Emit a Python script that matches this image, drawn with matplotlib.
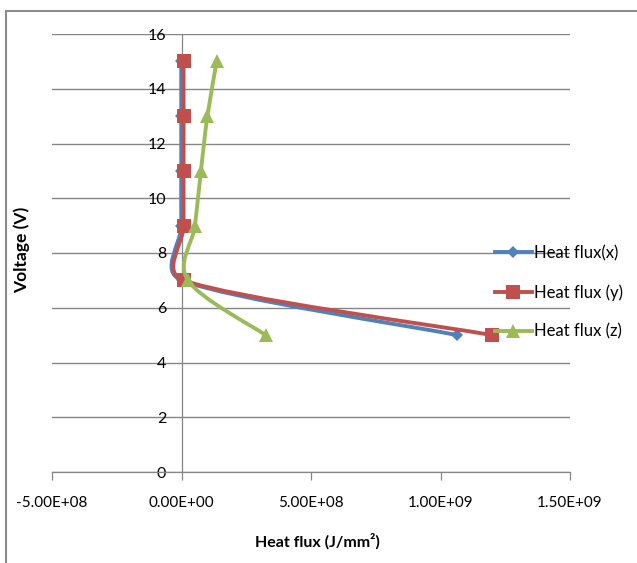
import numpy as np
import matplotlib
matplotlib.use("Agg")
import matplotlib.pyplot as plt
from matplotlib.path import Path
from matplotlib.patches import PathPatch, Rectangle
from matplotlib.lines import Line2D
from matplotlib.ticker import FuncFormatter, MultipleLocator

# data
voltage = [5, 7, 9, 11, 13, 15]
flux_x = [1.065e9, 1e6, -1e6, -1e6, -1e6, -1e6]
flux_y = [1.20e9, 8e6, 8e6, 8e6, 8e6, 8e6]
flux_z = [3.25e8, 2.5e7, 5.2e7, 7.5e7, 1.0e8, 1.36e8]
labels = ["Heat flux(x)", "Heat flux (y)", "Heat flux (z)"]
colors = ["#4F81BD", "#C0504D", "#9BBB59"]
markers = ["D", "s", "^"]
marker_sizes = [6.5, 9.5, 10]

W, H = 637, 563
X_LIM = (-5e8, 1.5e9)
Y_LIM = (0, 16)
AX_LEFT, AX_RIGHT, AX_TOP, AX_BOTTOM = 52, 570, 34, 472

plt.rcParams["font.family"] = ["Lato", "DejaVu Sans"]


def smooth_path(xs, ys, sx, sy, cap=0.45):
    """Excel-like smoothed line: Catmull-Rom Bezier segments, handles capped."""
    pts = np.column_stack([np.asarray(xs) * sx, np.asarray(ys) * sy])
    n = len(pts)
    verts = [pts[0]]
    codes = [Path.MOVETO]
    for i in range(n - 1):
        p0 = pts[i - 1] if i > 0 else pts[i]
        p1, p2 = pts[i], pts[i + 1]
        p3 = pts[i + 2] if i + 2 < n else pts[i + 1]
        d = np.linalg.norm(p2 - p1)
        h1 = (p2 - p0) / 6
        h2 = (p3 - p1) / 6
        for h in (h1, h2):
            ln = np.linalg.norm(h)
            if ln > cap * d:
                h *= cap * d / ln
        verts += [p1 + h1, p2 - h2, p2]
        codes += [Path.CURVE4] * 3
    verts = np.array(verts)
    verts[:, 0] /= sx
    verts[:, 1] /= sy
    return Path(verts, codes)


fig = plt.figure(figsize=(W / 100, H / 100), dpi=100)
ax = fig.add_axes([AX_LEFT / W, 1 - AX_BOTTOM / H,
                   (AX_RIGHT - AX_LEFT) / W, (AX_BOTTOM - AX_TOP) / H])
ax.set_xlim(*X_LIM)
ax.set_ylim(*Y_LIM)

sx = (AX_RIGHT - AX_LEFT) / (X_LIM[1] - X_LIM[0])
sy = (AX_BOTTOM - AX_TOP) / (Y_LIM[1] - Y_LIM[0])

handles = []
for i, (xs, c, m, ms, lab) in enumerate(zip([flux_x, flux_y, flux_z], colors,
                                            markers, marker_sizes, labels)):
    path = smooth_path(xs, voltage, sx, sy)
    ax.add_patch(PathPatch(path, fill=False, edgecolor=c, lw=2.8,
                           capstyle="round", joinstyle="round", zorder=3 + i))
    ax.plot(xs, voltage, linestyle="none", marker=m, markersize=ms,
            color=c, markeredgewidth=0, zorder=3.5 + i)
    handles.append(Line2D([], [], color=c, lw=2.8, marker=m, markersize=ms,
                          markeredgewidth=0, label=lab))

# axes styling, Excel-like
grid_col = "#868686"
ax.yaxis.set_major_locator(MultipleLocator(2))
ax.xaxis.set_major_locator(MultipleLocator(5e8))
ax.xaxis.set_major_formatter(FuncFormatter(lambda v, p: f"{v:.2E}"))
ax.yaxis.grid(True, color=grid_col, lw=1.0)
ax.set_axisbelow(True)
for s in ["top", "right"]:
    ax.spines[s].set_visible(False)
ax.spines["left"].set_position(("data", 0))
ax.spines["left"].set_color(grid_col)
ax.spines["bottom"].set_color(grid_col)
ax.spines["left"].set_linewidth(0.9)
ax.spines["bottom"].set_linewidth(0.9)
ax.tick_params(axis="y", length=0, pad=11, labelsize=11.5)
ax.tick_params(axis="x", length=5.5, width=0.9, color=grid_col, pad=12,
               labelsize=11)

fig.text(22 / W, 1 - 250 / H, "Voltage (V)", rotation=90, fontsize=12.5,
         fontweight="bold", ha="center", va="center")
fig.text(317 / W, 1 - 541 / H, "Heat flux (J/mm²)", fontsize=11.5,
         fontweight="bold", ha="center", va="center")

fig.legend(handles=handles, loc="upper left",
           bbox_to_anchor=(495 / W, 1 - 245 / H), frameon=False,
           borderpad=0, borderaxespad=0, handlelength=2.2,
           handletextpad=0.12, labelspacing=1.38, fontsize=12)

# chart area border (clipped by the image on right and bottom)
fig.add_artist(Rectangle((6 / W, -0.1), 2, 1.1 - 11 / H,
                         transform=fig.transFigure, fill=False,
                         edgecolor="#8c8c8c", lw=1.5))

fig.savefig("out.png", dpi=100)
